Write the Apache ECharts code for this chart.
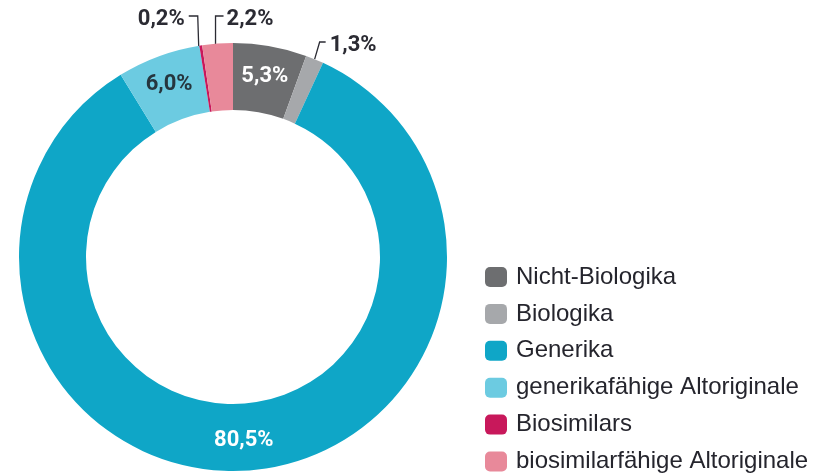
<!DOCTYPE html>
<html>
<head>
<meta charset="utf-8">
<script src="https://cdn.jsdelivr.net/npm/echarts@6/dist/echarts.min.js"></script>
<style>
html,body{margin:0;padding:0;background:#fff;}
#chart{width:838px;height:476px;}
</style>
</head>
<body>
<div id="chart"></div>
<script>
var categories = ['Nicht-Biologika', 'Biologika', 'Generika', 'generikafähige Altoriginale', 'Biosimilars', 'biosimilarfähige Altoriginale'];
var values = [5.3, 1.3, 80.5, 6.0, 0.2, 2.2];
var valueLabels = ['5,3%', '1,3%', '80,5%', '6,0%', '0,2%', '2,2%'];
var colors = ['#6d6e70', '#a6a8ab', '#0fa6c7', '#6ccbe1', '#c8185b', '#e8899a'];
var labelPlacement = ['inside', 'outside', 'inside', 'inside', 'outside', 'outside'];
var labelColors = ['#ffffff', '#2b2b33', '#ffffff', '#26363e', '#2b2b33', '#2b2b33'];

var FONT = 'Roboto, "Liberation Sans", sans-serif';

var seriesData = categories.map(function (c, i) {
  var outside = labelPlacement[i] === 'outside';
  return {
    name: c,
    value: values[i],
    itemStyle: { color: colors[i] },
    label: {
      show: true,
      position: outside ? 'outside' : 'inside',
      formatter: valueLabels[i],
      color: labelColors[i]
    },
    labelLine: { show: outside }
  };
});

var chart = echarts.init(document.getElementById('chart'), null, { renderer: 'canvas' });
chart.setOption({
  animation: false,
  backgroundColor: '#ffffff',
  legend: {
    orient: 'vertical',
    left: 485,
    top: 265,
    bottom: 0,
    padding: 0,
    itemWidth: 22,
    itemHeight: 20,
    itemGap: 12.9,
    icon: 'roundRect',
    data: categories,
    textStyle: {
      fontFamily: '"Liberation Sans", sans-serif',
      fontSize: 24,
      color: '#25252d',
      padding: [0, 0, 0, 4]
    }
  },
  series: [{
    type: 'pie',
    center: [233, 257],
    radius: [147, 214],
    startAngle: 90,
    clockwise: true,
    avoidLabelOverlap: false,
    silent: true,
    label: {
      fontFamily: FONT,
      fontSize: 22,
      fontWeight: 'bold',
      lineHeight: 24
    },
    labelLine: {
      lineStyle: { color: '#2b2b33', width: 1.3 },
      length: 10,
      length2: 8
    },
    labelLayout: function (params) {
      var i = params.dataIndex;
      var pts = params.labelLinePoints;
      if (labelPlacement[i] !== 'outside' || !pts) { return {}; }
      var p0 = pts[0];
      if (i === 4) {
        return {
          x: p0[0] - 16, y: 19, align: 'right', verticalAlign: 'middle',
          labelLinePoints: [[p0[0] - 2, p0[1] + 2], [p0[0] - 3, 16], [p0[0] - 12, 16]]
        };
      }
      if (i === 5) {
        return {
          x: p0[0] + 9, y: 19, align: 'left', verticalAlign: 'middle',
          labelLinePoints: [[p0[0] - 2, p0[1] + 2], [p0[0] - 2, 16], [p0[0] + 6, 16]]
        };
      }
      return {
        x: p0[0] + 15, y: 45, align: 'left', verticalAlign: 'middle',
        labelLinePoints: [[p0[0], p0[1]], [p0[0] + 5, 42], [p0[0] + 11, 42]]
      };
    },
    data: seriesData
  }]
});
</script>
</body>
</html>
